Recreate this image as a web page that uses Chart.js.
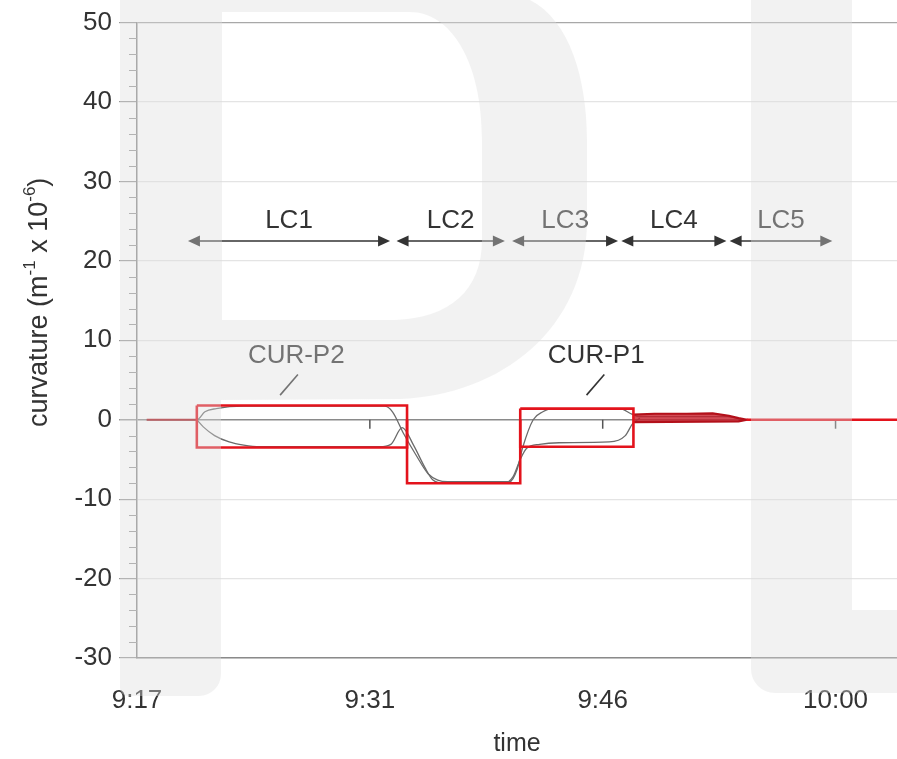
<!DOCTYPE html>
<html>
<head>
<meta charset="utf-8">
<script src="https://cdn.jsdelivr.net/npm/chart.js@4.4.1/dist/chart.umd.min.js"></script>
<style>
  html, body { margin: 0; padding: 0; background: #fff; }
  #wrap { width: 897px; height: 759px; }
</style>
</head>
<body>
<div id="wrap"><canvas id="curv" width="897" height="759"></canvas></div>
<script>
/* curvature record during load cases LC1..LC5
   x = minutes elapsed since 9:17, y = curvature (1e-6 / m) */
var START_MIN = 9 * 60 + 17;
var X_MAX = 47;
var X_TICKS = [0, 14.4, 28.8, 43.2];
var Y_MIN = -30, Y_MAX = 50;

// load case spans (arrows)
var LC_NAMES = ['LC1', 'LC2', 'LC3', 'LC4', 'LC5'];
var LC_FROM = [3.15, 16.05, 23.2, 29.95, 36.65];
var LC_TO = [15.65, 22.75, 29.75, 36.45, 43.0];
var LC_ARROW_Y = 22.5;
var LC_LABEL_Y = 25;

// limit boxes (red)
var BOX_FROM = [3.7, 16.7, 23.7];
var BOX_TO = [16.7, 23.7, 30.7];
var BOX_TOP = [1.8, 0, 1.4];
var BOX_BOTTOM = [-3.5, -8.0, -3.4];
var BOX_CLOSED = [true, false, true];

var LEAD_T = [0.6, 3.7];
var LEAD_V = [0, 0];
var TAIL_T = [37.7, 47];
var TAIL_V = [0, 0];

// LC4 band
var BAND_T = [30.7, 32.0, 34.0, 35.6, 36.6, 37.2, 37.7, 37.2, 30.7];
var BAND_V = [0.65, 0.75, 0.75, 0.8, 0.5, 0.2, 0.0, -0.2, -0.3];

// measured curvature, two sections
var P1_T = [0.6, 3.7, 4.2, 4.9, 6.6, 15.3, 15.8, 16.5, 17.3, 18.0, 18.6, 19.2, 23.05, 23.5, 23.85, 24.5, 25.1, 25.7, 29.85, 30.6, 31.0, 36.5, 37.7, 47];
var P1_V = [0, 0, 1.0, 1.4, 1.7, 1.7, 1.0, -1.8, -4.6, -6.8, -7.6, -7.8, -7.8, -6.3, -3.5, 0, 1.0, 1.4, 1.4, 0.7, 0.4, 0.4, 0, 0];
var P2_T = [3.7, 4.1, 4.8, 5.7, 6.6, 7.6, 15.0, 15.7, 16.4, 17.1, 17.8, 18.3, 19.0, 22.7, 23.25, 23.7, 24.1, 24.9, 26.1, 29.2, 30.2, 30.65, 31.1];
var P2_V = [0, -0.9, -2.0, -2.8, -3.2, -3.4, -3.4, -3.1, -1.0, -3.2, -6.0, -7.6, -8.0, -8.0, -7.2, -5.0, -3.6, -3.1, -2.9, -2.8, -2.0, -0.5, 0.2];

// curve callouts
var CUR_NAMES = ['CUR-P2', 'CUR-P1'];
var CUR_T = [9.85, 28.4];
var CUR_V = [8.1, 8.1];
var CUR_LEAD_T = [[8.85, 9.95], [27.8, 28.9]];
var CUR_LEAD_V = [[3.1, 5.7], [3.1, 5.7]];

var RED = '#e3131c';
var GREY = '#6b6b6b';
var TEXT = '#333';
var FONT = '"Liberation Sans", Arial, sans-serif';

function pts(t, v) {
  return t.map(function (x, i) { return { x: x, y: v[i] }; });
}

function line(data, color, width, extra) {
  var ds = {
    data: data, showLine: true, borderColor: color, borderWidth: width,
    pointRadius: 0, fill: false, tension: 0
  };
  for (var k in extra) ds[k] = extra[k];
  return ds;
}

var datasets = [];
BOX_FROM.forEach(function (a, i) {
  var b = BOX_TO[i], top = BOX_TOP[i], bot = BOX_BOTTOM[i];
  var d = [{ x: a, y: top }, { x: a, y: bot }, { x: b, y: bot }, { x: b, y: top }];
  if (BOX_CLOSED[i]) d.push({ x: a, y: top });
  datasets.push(line(d, RED, 2.6));
});
datasets.push(line(pts(LEAD_T, LEAD_V), '#a8121a', 2.2));
datasets.push(line(pts(TAIL_T, TAIL_V), RED, 2.6));
datasets.push(line(pts(BAND_T, BAND_V), '#b3101a', 2.2, { fill: 'shape', backgroundColor: 'rgba(200,30,42,0.8)' }));
datasets.push(line(pts(P1_T, P1_V), GREY, 1.3, { cubicInterpolationMode: 'monotone' }));
datasets.push(line(pts(P2_T, P2_V), GREY, 1.3, { cubicInterpolationMode: 'monotone' }));

function arrowHead(ctx, x, y, dir) {
  ctx.beginPath();
  ctx.moveTo(x, y);
  ctx.lineTo(x - dir * 12, y - 5.5);
  ctx.lineTo(x - dir * 12, y + 5.5);
  ctx.closePath();
  ctx.fill();
}

var extrasPlugin = {
  id: 'extras',
  beforeDatasetsDraw: function (chart) {
    var ctx = chart.ctx, xs = chart.scales.x, ys = chart.scales.y;
    ctx.save();
    // minor ticks on the y axis
    ctx.strokeStyle = '#9a9a9a';
    ctx.lineWidth = 1;
    for (var v = Y_MIN; v <= Y_MAX; v += 2) {
      if (v % 10 === 0) continue;
      var py = Math.round(ys.getPixelForValue(v)) + 0.5;
      ctx.beginPath();
      ctx.moveTo(xs.left - 8, py);
      ctx.lineTo(xs.left, py);
      ctx.stroke();
    }
    // small ticks hanging off the zero line
    var y0 = ys.getPixelForValue(0);
    ctx.strokeStyle = '#555';
    ctx.lineWidth = 1.5;
    X_TICKS.slice(1).forEach(function (t) {
      var px = xs.getPixelForValue(t);
      ctx.beginPath();
      ctx.moveTo(px, y0);
      ctx.lineTo(px, y0 + 9);
      ctx.stroke();
    });
    ctx.restore();
  },
  afterDatasetsDraw: function (chart) {
    var ctx = chart.ctx, xs = chart.scales.x, ys = chart.scales.y;
    ctx.save();
    ctx.font = '26px ' + FONT;
    ctx.textAlign = 'center';
    ctx.textBaseline = 'middle';
    ctx.fillStyle = TEXT;
    ctx.strokeStyle = TEXT;

    // load case arrows
    var ay = ys.getPixelForValue(LC_ARROW_Y);
    var ly = ys.getPixelForValue(LC_LABEL_Y);
    LC_NAMES.forEach(function (name, i) {
      var x0 = xs.getPixelForValue(LC_FROM[i]);
      var x1 = xs.getPixelForValue(LC_TO[i]);
      ctx.lineWidth = 1.6;
      ctx.beginPath();
      ctx.moveTo(x0 + 6, ay);
      ctx.lineTo(x1 - 6, ay);
      ctx.stroke();
      arrowHead(ctx, x0, ay, -1);
      arrowHead(ctx, x1, ay, 1);
      ctx.fillText(name, (x0 + x1) / 2, ly);
    });

    // curve callouts
    CUR_NAMES.forEach(function (name, i) {
      ctx.fillText(name, xs.getPixelForValue(CUR_T[i]), ys.getPixelForValue(CUR_V[i]));
      ctx.lineWidth = 1.6;
      ctx.beginPath();
      ctx.moveTo(xs.getPixelForValue(CUR_LEAD_T[i][0]), ys.getPixelForValue(CUR_LEAD_V[i][0]));
      ctx.lineTo(xs.getPixelForValue(CUR_LEAD_T[i][1]), ys.getPixelForValue(CUR_LEAD_V[i][1]));
      ctx.stroke();
    });

    // y axis title with superscripts, rotated
    var parts = [
      ['curvature (m', false], ['-1', true], [' x 10', false], ['-6', true], [')', false]
    ];
    var big = '27px ' + FONT, small = '17px ' + FONT;
    var total = 0;
    parts.forEach(function (p) { ctx.font = p[1] ? small : big; total += ctx.measureText(p[0]).width; });
    ctx.translate(40, (ys.top + ys.bottom) / 2 - 38);
    ctx.rotate(-Math.PI / 2);
    ctx.textAlign = 'left';
    var cx = -total / 2;
    parts.forEach(function (p) {
      ctx.font = p[1] ? small : big;
      ctx.fillText(p[0], cx, p[1] ? -10 : 0);
      cx += ctx.measureText(p[0]).width;
    });
    ctx.restore();
  },
  afterDraw: function (chart) {
    // faint lettering laid over the whole figure
    var ctx = chart.ctx;
    ctx.save();
    ctx.fillStyle = 'rgba(220,220,220,0.38)';
    ctx.beginPath();
    ctx.roundRect(120, 0, 101, 696, [0, 0, 22, 8]);
    ctx.moveTo(215, 0);
    ctx.lineTo(530, 0);
    ctx.bezierCurveTo(570, 20, 587, 80, 587, 140);
    ctx.lineTo(587, 220);
    ctx.bezierCurveTo(587, 330, 500, 395, 400, 399);
    ctx.lineTo(215, 400);
    ctx.closePath();
    ctx.moveTo(222, 12);
    ctx.lineTo(222, 320);
    ctx.lineTo(395, 320);
    ctx.bezierCurveTo(450, 318, 482, 290, 482, 240);
    ctx.lineTo(482, 140);
    ctx.bezierCurveTo(482, 60, 450, 12, 410, 12);
    ctx.closePath();
    ctx.roundRect(751, 0, 101, 693, [0, 0, 0, 24]);
    ctx.rect(845, 610, 52, 83);
    ctx.fill('nonzero');
    ctx.restore();
  }
};

function clock(t) {
  var m = Math.round(START_MIN + t);
  var h = Math.floor(m / 60), mm = m % 60;
  return h + ':' + (mm < 10 ? '0' : '') + mm;
}

new Chart(document.getElementById('curv'), {
  type: 'scatter',
  data: { datasets: datasets },
  plugins: [extrasPlugin],
  options: {
    responsive: false,
    animation: false,
    devicePixelRatio: 1,
    layout: { padding: 0 },
    plugins: { legend: { display: false }, tooltip: { enabled: false } },
    scales: {
      x: {
        type: 'linear',
        min: 0,
        max: X_MAX,
        afterBuildTicks: function (s) { s.ticks = X_TICKS.map(function (v) { return { value: v }; }); },
        afterFit: function (s) { s.height = 101; },
        grid: { display: false, drawTicks: false },
        border: { display: true, color: '#8a8a8a', width: 1.5 },
        ticks: {
          padding: 27,
          color: TEXT,
          font: { size: 26, family: FONT },
          maxRotation: 0,
          autoSkip: false,
          callback: function (v) { return clock(v); }
        },
        title: { display: true, text: 'time', color: TEXT, font: { size: 25, family: FONT }, padding: { top: 0, bottom: 0 } }
      },
      y: {
        min: Y_MIN,
        max: Y_MAX,
        afterFit: function (s) { s.width = 137; },
        grid: {
          color: function (c) {
            var v = c.tick && c.tick.value;
            if (v === 0) return '#8a8a8a';
            if (v === Y_MAX) return '#a8a8a8';
            return '#e4e4e4';
          },
          lineWidth: function (c) { return (c.tick && c.tick.value === 0) ? 1.5 : 1.2; },
          tickColor: '#9a9a9a',
          tickLength: 18
        },
        border: { display: true, color: '#8a8a8a', width: 1.5 },
        ticks: {
          stepSize: 10,
          padding: 7,
          color: TEXT,
          font: { size: 26, family: FONT }
        }
      }
    }
  }
});
</script>
</body>
</html>
